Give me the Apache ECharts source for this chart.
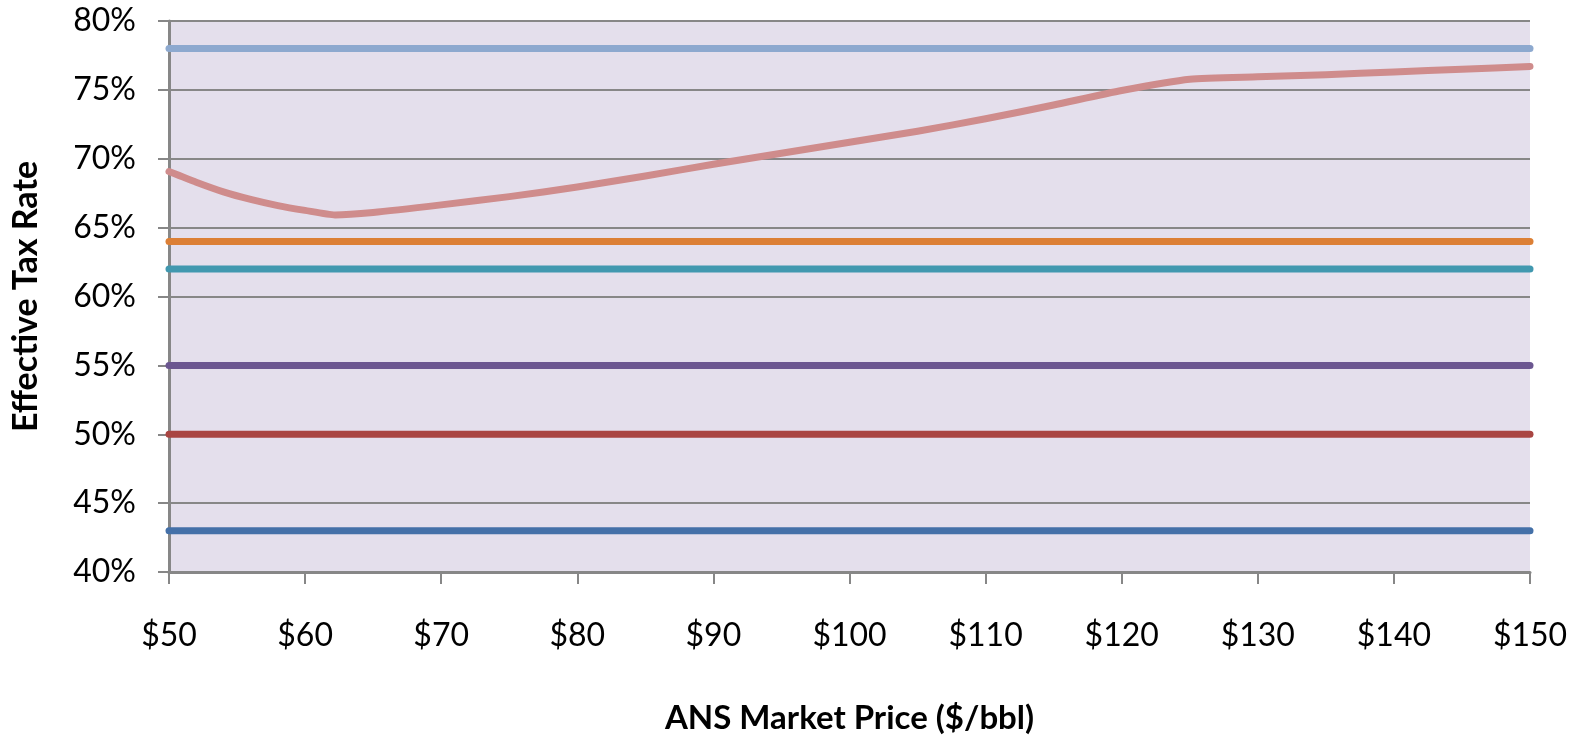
<!DOCTYPE html>
<html>
<head>
<meta charset="utf-8">
<title>Effective Tax Rate vs ANS Market Price</title>
<script src="https://cdn.jsdelivr.net/npm/echarts@6/dist/echarts.min.js"></script>
<style>
  html, body { margin: 0; padding: 0; background: #ffffff; }
  #chart { width: 1579px; height: 735px; }
</style>
</head>
<body>
<div id="chart"></div>
<script>
// Price range (x) and the flat-rate scenarios, in % effective tax rate
const priceRange = [50, 150];
const flatTop = [78, 78];       // light blue
const flatOrange = [64, 64];
const flatTeal = [62, 62];
const flatPurple = [55, 55];
const flatRed = [50, 50];
const flatBlue = [43, 43];

// Progressive scenario: effective rate at each ANS price
const curvePrices = [50, 52, 54, 56, 58, 60, 62.2, 65, 70, 75, 80, 85, 90, 95, 100, 105, 110, 115, 120, 125, 130, 135, 140, 145, 150];
const curveRates  = [69.07, 68.3, 67.6, 67.05, 66.6, 66.25, 65.92, 66.1, 66.65, 67.25, 67.95, 68.75, 69.6, 70.4, 71.2, 72.0, 72.9, 73.9, 74.95, 75.77, 75.95, 76.1, 76.3, 76.5, 76.7];

// Axis ticks
const xTicks = { min: 50, max: 150, step: 10 };
const yTicks = { min: 40, max: 80, step: 5 };

const FONT = 'Lato, "Open Sans", sans-serif';
const GRAY = '#878787';

function pairs(xs, ys) { return xs.map((x, i) => [x, ys[i]]); }

function flatSeries(values, color) {
  return {
    type: 'line',
    data: pairs(priceRange, values),
    showSymbol: false,
    symbol: 'none',
    lineStyle: { color: color, width: 7, cap: 'round' },
    silent: true
  };
}

const chart = echarts.init(document.getElementById('chart'));
chart.setOption({
  backgroundColor: '#ffffff',
  animation: false,
  grid: {
    left: 169, right: 49, top: 21, bottom: 163,
    outerBoundsMode: 'none',
    containLabel: false,
    show: true, backgroundColor: '#E4DFEC', borderWidth: 0
  },
  xAxis: {
    type: 'value',
    min: xTicks.min, max: xTicks.max, interval: xTicks.step,
    name: 'ANS Market Price ($/bbl)',
    nameLocation: 'middle',
    nameGap: 130,
    nameTextStyle: { fontFamily: FONT, fontWeight: 'bold', fontSize: 33, color: '#000' },
    axisLine: { show: true, onZero: false, lineStyle: { color: GRAY, width: 3 } },
    axisTick: { show: true, length: 12, lineStyle: { color: GRAY, width: 2 } },
    axisLabel: {
      margin: 48, fontFamily: FONT, fontSize: 32, color: '#000',
      formatter: v => '$' + v
    },
    splitLine: { show: false }
  },
  yAxis: {
    type: 'value',
    min: yTicks.min, max: yTicks.max, interval: yTicks.step,
    name: 'Effective Tax Rate',
    nameLocation: 'middle',
    nameGap: 126,
    nameTextStyle: { fontFamily: FONT, fontWeight: 'bold', fontSize: 34, color: '#000' },
    axisLine: { show: true, lineStyle: { color: GRAY, width: 3 } },
    axisTick: { show: true, length: 11, lineStyle: { color: GRAY, width: 2 } },
    axisLabel: {
      margin: 33, fontFamily: FONT, fontSize: 32, color: '#000',
      formatter: v => v + '%'
    },
    splitLine: { show: true, lineStyle: { color: GRAY, width: 2 } }
  },
  series: [
    flatSeries(flatBlue, '#4470A8'),
    flatSeries(flatRed, '#A94542'),
    flatSeries(flatPurple, '#6B5690'),
    flatSeries(flatTeal, '#4198AF'),
    flatSeries(flatOrange, '#DC7F35'),
    flatSeries(flatTop, '#8DA9CF'),
    {
      type: 'line',
      data: pairs(curvePrices, curveRates),
      showSymbol: false,
      symbol: 'none',
      smooth: 0.2,
      lineStyle: { color: '#CF8C8C', width: 7, cap: 'round', join: 'round' },
      silent: true
    }
  ]
});
</script>
</body>
</html>
